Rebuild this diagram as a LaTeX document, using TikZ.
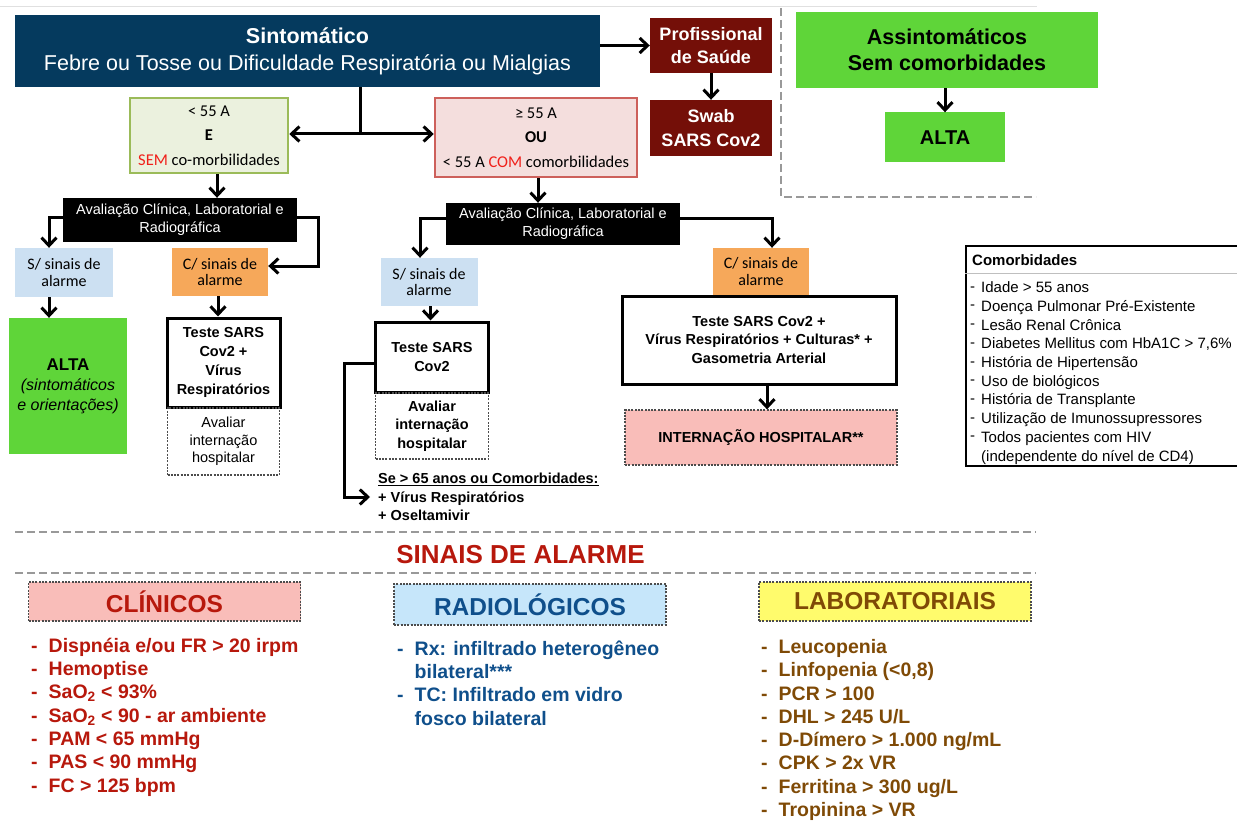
\documentclass[tikz,border=0pt]{standalone}
\usepackage{fontspec}
\setmainfont{Liberation Sans}
\newfontfamily\calib{Carlito}
\usetikzlibrary{arrows.meta}

\definecolor{sintblue}{RGB}{5,58,94}
\definecolor{profred}{RGB}{116,15,8}
\definecolor{altagreen}{RGB}{95,213,57}
\definecolor{menorfill}{RGB}{235,241,222}
\definecolor{menordraw}{RGB}{155,187,89}
\definecolor{maiorfill}{RGB}{244,222,221}
\definecolor{maiordraw}{RGB}{205,96,91}
\definecolor{sblue}{RGB}{204,224,242}
\definecolor{corange}{RGB}{246,168,90}
\definecolor{intpink}{RGB}{249,189,185}
\definecolor{clinred}{RGB}{183,24,12}
\definecolor{radfill}{RGB}{198,230,250}
\definecolor{radblue}{RGB}{15,79,139}
\definecolor{labfill}{RGB}{255,251,108}
\definecolor{labbrown}{RGB}{127,74,6}
\definecolor{semred}{RGB}{240,32,26}
\definecolor{sepgray}{RGB}{153,153,153}

\newcommand{\fsz}[2]{\fontsize{#1}{#2}\selectfont}
\newcommand{\itm}{\makebox[17.5pt][l]{-}}
\newcommand{\citm}{\makebox[11pt][l]{\raisebox{1.5pt}{-}}}

\tikzset{
  flow/.style={inner sep=0pt, align=center},
  wh/.style 2 args={minimum width=#1pt, minimum height=#2pt},
  arr/.style={line width=3pt, ->},
  plain/.style={line width=3pt},
  thick box/.style={draw=black, line width=3pt, fill=white},
  dotbox/.style={draw=black!70, line width=1.3pt, dash pattern=on 2pt off 1.3pt},
  sep/.style={draw=sepgray, line width=2.5pt, dash pattern=on 8pt off 4pt},
}

\begin{document}
\begin{tikzpicture}[x=1pt,y=-1pt,>={Straight Barb[length=8pt,width=15pt]}]
\useasboundingbox (0,0) rectangle (1237,821);
\clip (0,0) rectangle (1237,821);
\draw[black!12, line width=1pt] (0,7) -- (1037,7);

% top row
\node [flow, wh={585}{72}, fill=sintblue, text=white, font=\fsz{21.5}{27}] (sint) at (307.5,51) {{\bfseries Sintomático}\\Febre ou Tosse ou Dificuldade Respiratória ou Mialgias};
\node [flow, wh={122}{55}, fill=profred, text=white, font=\bfseries\fsz{18}{23}] (prof) at (711,45.5) {Profissional\\de Saúde};
\node [flow, wh={122}{56}, fill=profred, text=white, font=\bfseries\fsz{18}{24}] (swab) at (711,128) {Swab\\SARS Cov2};
\node [flow, wh={302}{76}, fill=altagreen, font=\bfseries\fsz{21.5}{26}] (assint) at (947,50) {Assintomáticos\\Sem comorbidades};
\node [flow, wh={120}{50}, fill=altagreen, font=\bfseries\fsz{20}{24}] (alta1) at (945,137.5) {ALTA};

% age groups
\node [flow, wh={158}{75}, fill=menorfill, draw=menordraw, line width=2.5pt, font=\calib\fsz{16.5}{24.5}] (menor) at (209,135.5) {< 55 A\\{\bfseries E}\\{\color{semred}SEM} co-morbilidades};
\node [flow, wh={202}{79}, fill=maiorfill, draw=maiordraw, line width=2.5pt, font=\calib\fsz{16.5}{24.5}] (maior) at (536,137.5) {≥ 55 A\\{\bfseries OU}\\< 55 A {\color{semred}COM} comorbilidades};

% left branch
\node [flow, wh={234}{44}, fill=black, text=white, font=\fsz{14.5}{18}] (aval1) at (180,220) {Avaliação Clínica, Laboratorial e\\Radiográfica};
\node [flow, wh={98}{49}, fill=sblue, font=\calib\fsz{16}{16.5}] (ssin1) at (64,272.5) {S/ sinais de\\alarme};
\node [flow, wh={96}{48}, fill=corange, font=\calib\fsz{16}{16.5}] (csin1) at (220,272) {C/ sinais de\\alarme};
\node [flow, wh={118}{136}, fill=altagreen, font=\itshape\fsz{16}{20}] (alta2) at (68,386) {{\upshape\bfseries\fsz{17}{20}ALTA}\\(sintomáticos\\e orientações)};
\node [flow, wh={113}{89}, thick box, font=\bfseries\fsz{14.5}{19}] (teste1) at (223.5,362.5) {Teste SARS\\Cov2 +\\Vírus\\Respiratórios};
\node [flow, wh={112}{67}, dotbox, font=\fsz{14.5}{17.5}] (aval1b) at (223.5,441.5) {Avaliar\\internação\\hospitalar};

% middle branch
\node [flow, wh={234}{42}, fill=black, text=white, font=\fsz{14.5}{18}] (aval2) at (563,224) {Avaliação Clínica, Laboratorial e\\Radiográfica};
\node [flow, wh={97}{48}, fill=sblue, font=\calib\fsz{16}{16.5}] (ssin2) at (429,282) {S/ sinais de\\alarme};
\node [flow, wh={113}{70}, thick box, font=\bfseries\fsz{14.5}{18.5}] (teste2) at (432,357) {Teste SARS\\Cov2};
\node [flow, wh={113}{66}, dotbox, font=\bfseries\fsz{14.5}{18.5}] (aval2b) at (432,426) {Avaliar\\internação\\hospitalar};
\node [align=left, inner xsep=8pt, inner ysep=0pt, anchor=west, font=\bfseries\fsz{14.5}{18.5}] (se) at (370,497) {\underline{Se > 65 anos ou Comorbidades:}\\+ Vírus Respiratórios\\+ Oseltamivir};

% right branch
\node [flow, wh={96}{47}, fill=corange, font=\calib\fsz{16}{16.5}] (csin2) at (761,271.5) {C/ sinais de\\alarme};
\node [flow, wh={274}{88}, thick box, font=\bfseries\fsz{14.5}{18.5}] (testeBig) at (759,340) {Teste SARS Cov2 +\\Vírus Respiratórios + Culturas* +\\Gasometria Arterial};
\node [flow, wh={272}{55}, dotbox, fill=intpink, font=\bfseries\fsz{14.5}{18}] (intern) at (761,437.5) {INTERNAÇÃO HOSPITALAR**};

% comorbidades
\node [wh={278}{220}, draw=black, line width=1.2pt] (comorb) at (1105,356) {};
\draw[black!25, line width=1pt] (comorb.west |- 0,273) -- (comorb.east |- 0,273);
\node [inner sep=0pt, anchor=west, font=\bfseries\fsz{15}{18}] (comorbHead) at (972,260) {Comorbidades};
\node [inner sep=0pt, anchor=west, align=left, font=\fsz{15}{18.7}] (comorbList) at (970,373) {\citm Idade > 55 anos\\\citm Doença Pulmonar Pré-Existente\\\citm Lesão Renal Crônica\\\citm Diabetes Mellitus com HbA1C > 7,6\%\\\citm História de Hipertensão\\\citm Uso de biológicos\\\citm História de Transplante\\\citm Utilização de Imunossupressores\\\citm Todos pacientes com HIV\\\hspace*{11pt}(independente do nível de CD4)};

% connectors
\draw[arr] (sint.east |- prof.west) -- (prof.west);
\draw[arr] (prof.south) -- (swab.north);
\draw[arr] (assint.south -| alta1.north) -- (alta1.north);
\coordinate (split) at (360,134);
\draw[plain] (sint.south -| split) -- (split);
\draw[arr, <->] (menor.east |- split) -- (maior.west |- split);
\draw[arr] ([xshift=8pt]menor.south) -- ([xshift=8pt]menor.south |- aval1.north);
\draw[arr] ([yshift=2pt]aval1.west) -| ([xshift=-15pt]ssin1.north);
\coordinate (r1) at (318,266);
\draw[arr] ([yshift=2pt]aval1.east) -| (r1) -- (r1 -| csin1.east);
\draw[arr] ([xshift=-15pt]ssin1.south) -- ([xshift=-15pt]ssin1.south |- alta2.north);
\draw[arr] ([xshift=-2pt]csin1.south) -- ([xshift=-2pt]csin1.south |- teste1.north);
\draw[arr] ([xshift=2pt]maior.south) -- ([xshift=2pt]maior.south |- aval2.north);
\draw[arr] ([yshift=5pt]aval2.west) -| ([xshift=-9pt]ssin2.north);
\draw[arr] ([xshift=1.5pt]ssin2.south) -- ([xshift=1.5pt]ssin2.south |- teste2.north);
\coordinate (b) at (344.5,497);
\draw[arr] ([yshift=-6pt]teste2.west) -| (b) -- (b -| se.west);
\draw[arr] ([yshift=5pt]aval2.east) -| ([xshift=11pt]csin2.north);
\draw[arr] ([xshift=8pt]testeBig.south) -- ([xshift=8pt]testeBig.south |- intern.north);

% separators
\draw[sep] (781,8) -- (781,197) -- (1036,197);
\draw[sep] (15,532) -- (1036,532);
\draw[sep] (15,573) -- (1036,573);

% sinais de alarme
\node [inner sep=0pt, text=clinred, font=\bfseries\fsz{26}{30}] (sinais) at (520.5,555) {SINAIS DE ALARME};
\node [flow, wh={272}{39}, dotbox, fill=intpink, text=clinred, font=\bfseries\fsz{24.5}{28}] (clin) at (164.5,601.5) {CLÍNICOS};
\node [flow, wh={272}{41}, dotbox, fill=radfill, text=radblue, font=\bfseries\fsz{24.5}{28}] (rad) at (530,604.5) {RADIOLÓGICOS};
\node [flow, wh={272}{39}, dotbox, fill=labfill, text=labbrown, font=\bfseries\fsz{24.5}{28}] (lab) at (895,601.5) {LABORATORIAIS};
\node [inner sep=0pt, anchor=west, align=left, text=clinred, font=\bfseries\fsz{19.5}{23.3}] (clinList) at (31,717) {\itm Dispnéia e/ou FR > 20 irpm\\\itm Hemoptise\\\itm SaO\textsubscript{2} < 93\%\\\itm SaO\textsubscript{2} < 90 - ar ambiente\\\itm PAM < 65 mmHg\\\itm PAS < 90 mmHg\\\itm FC > 125 bpm};
\node [inner sep=0pt, anchor=west, align=left, text=radblue, font=\bfseries\fsz{19.5}{23.3}] (radList) at (397,683) {\itm Rx: infiltrado heterogêneo\\\hspace*{17.5pt}bilateral***\\\itm TC: Infiltrado em vidro\\\hspace*{17.5pt}fosco bilateral};
\node [inner sep=0pt, anchor=west, align=left, text=labbrown, font=\bfseries\fsz{19.5}{23.3}] (labList) at (761,730) {\itm Leucopenia\\\itm Linfopenia (<0,8)\\\itm PCR > 100\\\itm DHL > 245 U/L\\\itm D-Dímero > 1.000 ng/mL\\\itm CPK > 2x VR\\\itm Ferritina > 300 ug/L\\\itm Tropinina > VR};
\end{tikzpicture}
\end{document}
